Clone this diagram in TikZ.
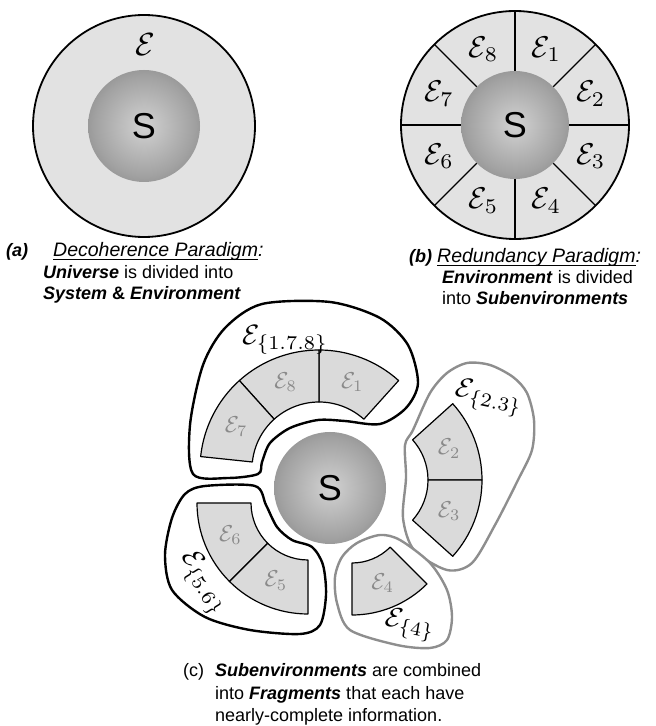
\documentclass[tikz,border=0pt]{standalone}
\usepackage{fontspec}
\setmainfont{Liberation Sans}
\definecolor{ringlight}{HTML}{E2E2E2}
\definecolor{ringdark}{HTML}{C4C4C4}
\definecolor{secfill}{HTML}{DADADA}
\definecolor{fragline}{HTML}{8E8E8E}
\definecolor{subenvtext}{HTML}{8A8A8A}
\definecolor{spherelight}{HTML}{D2D2D2}
\definecolor{spheremid}{HTML}{A2A2A2}
\definecolor{spheredeep}{HTML}{6C6C6C}
\definecolor{spheredark}{HTML}{3A3A3A}

\pgfdeclareradialshading{sphereshade}{\pgfpoint{0bp}{0bp}}{color(0bp)=(spherelight); color(22bp)=(spheremid); color(42bp)=(spheredeep); color(50bp)=(spheredark)}
\pgfdeclareradialshading{ringshade}{\pgfpoint{0bp}{0bp}}{color(0bp)=(ringlight); color(38bp)=(ringlight); color(50bp)=(ringdark)}

% underlined caption title
\newcommand{\capul}[1]{\setbox0\hbox{#1}\rlap{\rule[-3pt]{\wd0}{0.9pt}}\box0}

% one annular sub-environment: inner r, outer r, start angle, end angle, index
\newcommand{\subenv}[5]{%
  \draw[subsec] (#3:#1) arc[start angle=#3, end angle=#4, radius=#1]
    -- (#4:#2) arc[start angle=#4, end angle=#3, radius=#2] -- cycle;
  \node[subtxt] (e#5) at ({(#3+#4)/2}:{(#1+#2)/2}) {$\mathcal{E}_{#5}$};}

\begin{document}
\begin{tikzpicture}[
  x=1pt, y=1pt,
  sphere/.style   = {circle, shade, shading=sphereshade, inner sep=0pt, font=\fontsize{36}{40}\selectfont},
  envring/.style  = {shade, shading=ringshade, draw=black, line width=1.8pt},
  envtxt/.style   = {scale=3.2},
  partline/.style = {draw=black, line width=1.2pt},
  partxt/.style   = {scale=3.0},
  subsec/.style   = {fill=secfill, draw=black, line width=1.2pt, line join=round},
  subtxt/.style   = {text=subenvtext, scale=2.3},
  fragdark/.style = {draw=black, fill=white, line width=2.4pt},
  fraglight/.style= {draw=fragline, fill=white, line width=2.4pt},
  fragtxt/.style  = {scale=2.8, inner sep=1pt},
  capt/.style     = {anchor=base west, inner sep=0pt, font=\fontsize{18}{21}\selectfont},
  capttitle/.style= {capt, font=\fontsize{19.5}{21}\selectfont},
]
\useasboundingbox (0,0) rectangle (656,726);

%% ---------------------------------------------------------------- (a)
\path[envring] (144,600) circle[radius=111];
\node[sphere, minimum size=112pt] (sysa) at (144,600) {S};
\node[envtxt] (enva) at (145,681) {$\mathcal{E}$};

\node[capt]      (capa0) at (6,469)  {\textbf{\textit{(a)}}};
\node[capttitle] (capa1) at (53,469) {\capul{\textit{Decoherence Paradigm}}\textit{:}};
\node[capt]      (capa2) at (43,447) {\textbf{\textit{Universe}} is divided into};
\node[capt]      (capa3) at (43,426) {\textbf{\textit{System}} \textbf{\&} \textbf{\textit{Environment}}};

%% ---------------------------------------------------------------- (b)
\begin{scope}[shift={(515,601)}]
  \path[envring] (0,0) circle[radius=114];
  \foreach \a in {0,45,...,315}
    \draw[partline] (\a:54) -- (\a:114);
  \node[sphere, minimum size=108pt] (sysb) at (0,0) {S};
  \foreach \i in {1,...,8}
    \node[partxt] (b\i) at ({112.5-45*\i}:82) {$\mathcal{E}_{\i}$};
\end{scope}

\node[capt]      (capb0) at (409,463) {\textbf{\textit{(b)}}};
\node[capttitle] (capb1) at (437,463) {\capul{\textit{Redundancy Paradigm}}\textit{:}};
\node[capt]      (capb2) at (442,442) {\textbf{\textit{Environment}} is divided};
\node[capt]      (capb3) at (442,421) {into \textbf{\textit{Subenvironments}}};

%% ---------------------------------------------------------------- (c) fragments
\draw[fragdark] plot[smooth cycle] coordinates {
  (193,252) (190,301) (203,361) (225,398) (262,422) (330,424) (380,408)
  (408,381) (418,343) (406,318) (380,302) (345,305) (318,306) (290,298)
  (270,283) (262,264) (258,252) (228,248)};
\draw[fraglight] plot[smooth cycle] coordinates {
  (405,281) (413,296) (430,333) (447,353) (467,363) (490,361) (513,349)
  (527,333) (534,306) (532,276) (518,246) (495,201) (472,163) (447,156)
  (414,176) (403,208) (406,248)};
\draw[fragdark] plot[smooth cycle] coordinates {
  (185,232) (205,240) (255,240) (266,221) (277,199) (292,186) (312,179)
  (323,161) (326,131) (320,101) (300,92) (250,96) (205,109) (172,136)
  (165,171) (172,208)};
\draw[fraglight] plot[smooth cycle] coordinates {
  (357,183) (380,191) (400,186) (430,163) (447,136) (452,109) (447,86)
  (430,78) (397,81) (350,96) (337,123) (335,149) (342,169)};

\begin{scope}[shift={(319,257)}]
  \subenv{67}{119}{48}{90}{1}
  \subenv{67}{119}{90}{132}{8}
  \subenv{67}{119}{132}{174}{7}
\end{scope}
\begin{scope}[shift={(368,246)}]
  \subenv{60}{114}{0}{42}{2}
  \subenv{60}{114}{-42}{0}{3}
\end{scope}
\begin{scope}[shift={(308,223)}]
  \subenv{57}{111}{180}{225}{6}
  \subenv{57}{111}{225}{270}{5}
\end{scope}
\begin{scope}[shift={(352,217)}]
  \subenv{54}{106}{270}{315}{4}
\end{scope}

\node[sphere, minimum size=112pt] (sysc) at (330,238) {S};

\node[fragtxt]             (f178) at (285,386) {$\mathcal{E}_{\{1.7.8\}}$};
\node[fragtxt, rotate=-12] (f23)  at (489,328) {$\mathcal{E}_{\{2.3\}}$};
\node[fragtxt, rotate=-58] (f56)  at (203,143) {$\mathcal{E}_{\{5.6\}}$};
\node[fragtxt, rotate=-10] (f4)   at (410,101) {$\mathcal{E}_{\{4\}}$};

\node[capt] (capc0) at (183,49) {(c)};
\node[capt] (capc1) at (215,49) {\textbf{\textit{Subenvironments}} are combined};
\node[capt] (capc2) at (215,27) {into \textbf{\textit{Fragments}} that each have};
\node[capt] (capc3) at (215,5)  {nearly-complete information.};
\end{tikzpicture}
\end{document}
